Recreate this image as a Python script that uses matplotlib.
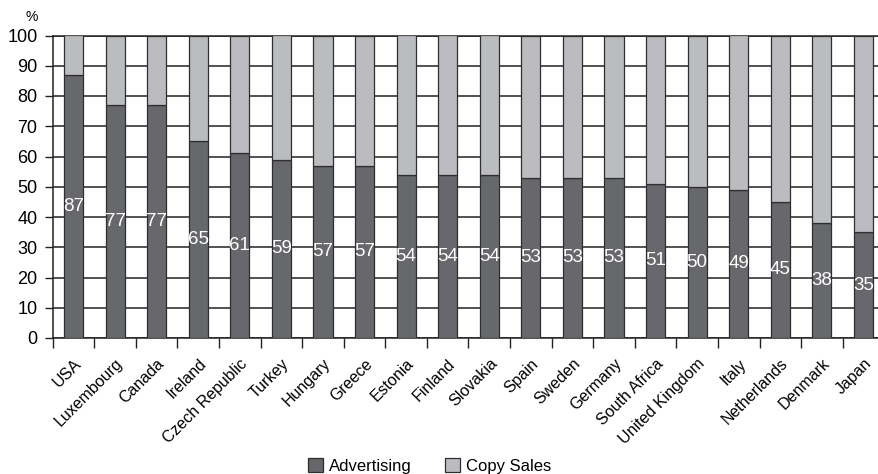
import matplotlib
matplotlib.use("Agg")
import matplotlib.pyplot as plt
import numpy as np

countries = ["USA", "Luxembourg", "Canada", "Ireland", "Czech Republic", "Turkey",
             "Hungary", "Greece", "Estonia", "Finland", "Slovakia", "Spain", "Sweden",
             "Germany", "South Africa", "United Kingdom", "Italy", "Netherlands",
             "Denmark", "Japan"]
advertising = [87, 77, 77, 65, 61, 59, 57, 57, 54, 54, 54, 53, 53, 53, 51, 50, 49, 45, 38, 35]
copy_sales = [100 - v for v in advertising]
y_ticks = [0, 10, 20, 30, 40, 50, 60, 70, 80, 90, 100]

plt.rcParams['font.family'] = ['Liberation Sans', 'DejaVu Sans']

W, H = 879, 474
fig = plt.figure(figsize=(W / 100, H / 100), dpi=100)
left = 52.7 / W
right = 884.3 / W
bottom = (H - 338) / H
top = (H - 35.5) / H
ax = fig.add_axes([left, bottom, right - left, top - bottom])

dark = "#67686c"
light = "#bbbcbf"
edge = "#2e2e2e"

x = np.arange(len(countries))
width = 0.46
b1 = ax.bar(x, advertising, width, color=dark, edgecolor=edge, linewidth=0.9,
            label="Advertising", zorder=3)
b2 = ax.bar(x, copy_sales, width, bottom=advertising, color=light, edgecolor=edge,
            linewidth=0.9, label="Copy Sales", zorder=3)

for xi, v in zip(x, advertising):
    ax.text(xi, v / 2, f"{v}", ha="center", va="center", color="white",
            fontsize=13.5, zorder=4)

ax.set_xlim(-0.5, len(countries) - 0.5)
ax.set_ylim(0, 100)
ax.set_yticks(y_ticks)
ax.tick_params(axis="y", labelsize=13, length=6, width=1, pad=5, color="#222")
ax.yaxis.grid(True, color="#222", linewidth=1.1, zorder=0)
ax.set_axisbelow(True)

ax.set_xticks(x)
ax.set_xticklabels(countries, rotation=45, ha="right", rotation_mode="anchor",
                   fontsize=11.5)
ax.tick_params(axis="x", which="major", length=0, pad=13)
ax.set_xticks(np.arange(len(countries) + 1) - 0.5, minor=True)
ax.tick_params(axis="x", which="minor", length=7, width=1, color="#222")

for s in ["right"]:
    ax.spines[s].set_visible(False)
for s in ["left", "bottom", "top"]:
    ax.spines[s].set_color("#222")
    ax.spines[s].set_linewidth(1.1)

fig.text(32 / W, 1 - 17 / H, "%", fontsize=10, ha="center", va="center")

fig.legend(handles=[b1, b2], labels=["Advertising", "Copy Sales"], loc="center",
           bbox_to_anchor=(430 / W, 8 / H), ncol=2, frameon=False, fontsize=12,
           handlelength=0.85, handleheight=0.85, handletextpad=0.4, columnspacing=2.0,
           borderaxespad=0)

fig.savefig("out.png", dpi=100)
